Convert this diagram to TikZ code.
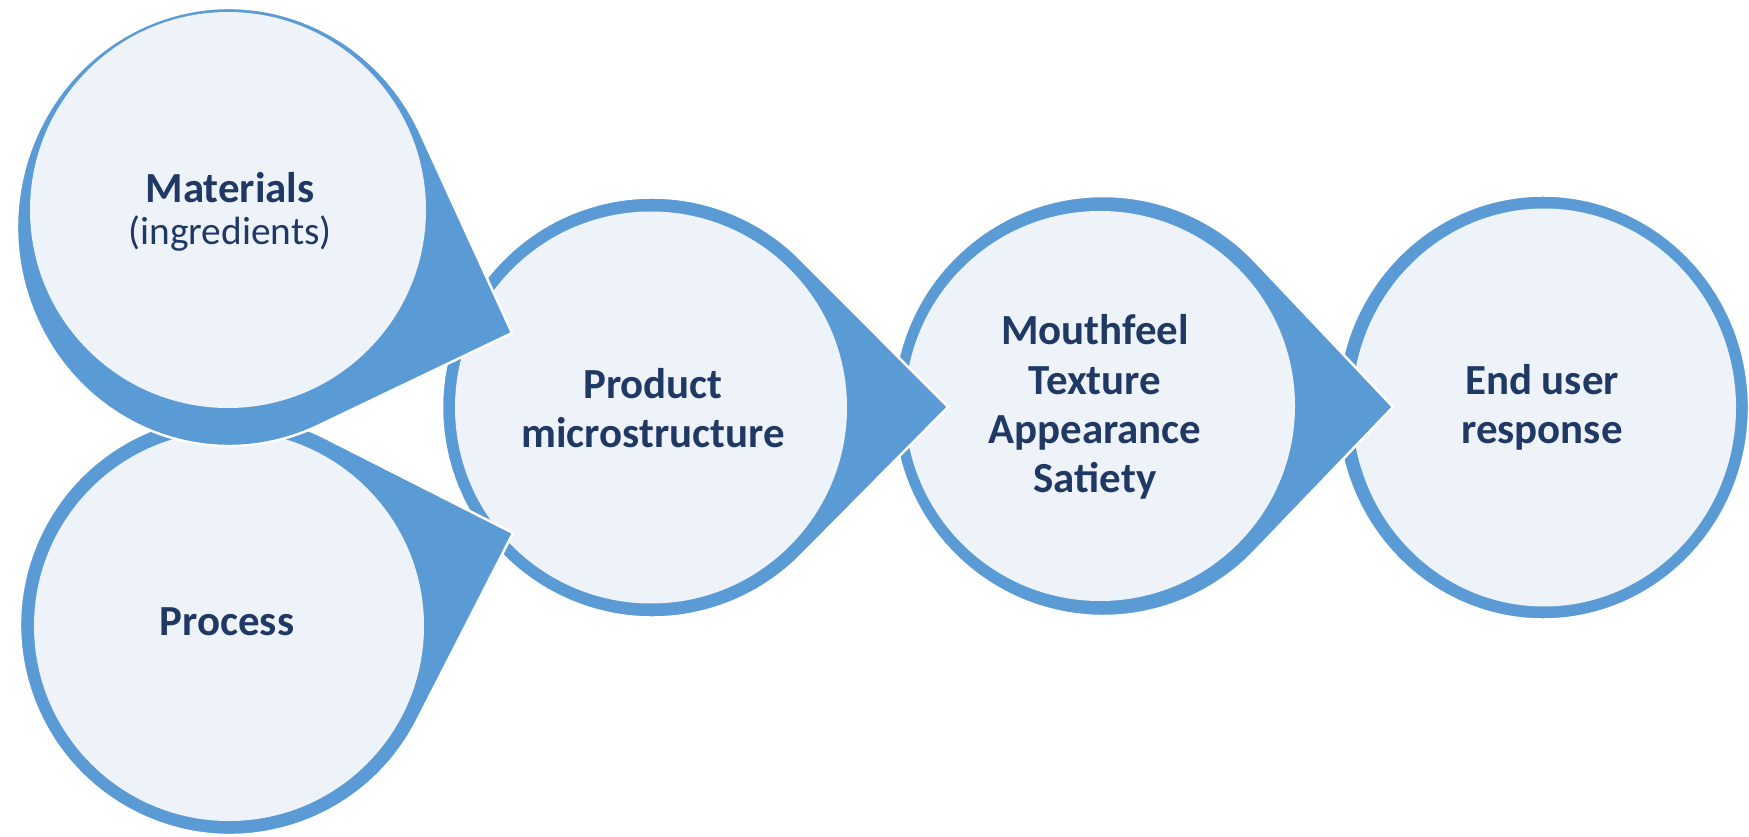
\documentclass[tikz,border=0pt]{standalone}
\usepackage{fontspec}
\setmainfont{Carlito}
\definecolor{ringblue}{RGB}{91,155,213}
\definecolor{kernfill}{RGB}{238,243,250}
\definecolor{textblue}{RGB}{31,56,100}
\tikzset{
  ring/.style={fill=ringblue, draw=white, line width=0.7pt},
  kern/.style={fill=kernfill},
  stagetext/.style={text=textblue, align=center, font=\bfseries\fontsize{12.2}{14}\selectfont}
}
\begin{document}
\begin{tikzpicture}[x=0.01cm, y=0.01cm]
  \useasboundingbox (0,0) rectangle (1749,836);
  % Endkreis
  \draw[ring] (1543,428.5) ellipse [x radius=206, y radius=212];
  \fill[kern] (1544,428.5) ellipse [x radius=192, y radius=199];
  % Kreise mit Spitze, von hinten nach vorn
  \foreach \cx/\cy/\rx/\ry/\a/\b/\tx/\ty/\ix/\iy/\ir in {
      1103/430/210/210/43.4/316.2/1393/429/1100/430/195,
      652/428.5/210/210/44.8/315.2/948/429/651/428.5/196,
      230/211/210/210/63.1/332.9/513/303/229/210/195,
      229/609/212/219/25.3/294.9/512/503/228/626/198} {
    \draw[ring] (\tx,\ty) -- ({\cx+\rx*cos(\a)},{\cy+\ry*sin(\a)})
      arc[start angle=\a, end angle=\b, x radius=\rx, y radius=\ry] -- cycle;
    \fill[kern] (\ix,\iy) circle[radius=\ir];
  }
  % Beschriftung
  \node[stagetext] (mat) at (230,624) {Materials\\[-2pt]{\mdseries\fontsize{11.2}{13}\selectfont (ingredients)}};
  \node[stagetext] (proc) at (227,214) {Process};
  \node[stagetext] (prod) at (653,428) {Product\\microstructure};
  \node[stagetext] (mouth) at (1095,429) {Mouthfeel\\Texture\\Appearance\\Satiety};
  \node[stagetext] (user) at (1542,429) {End user\\response};
\end{tikzpicture}
\end{document}
